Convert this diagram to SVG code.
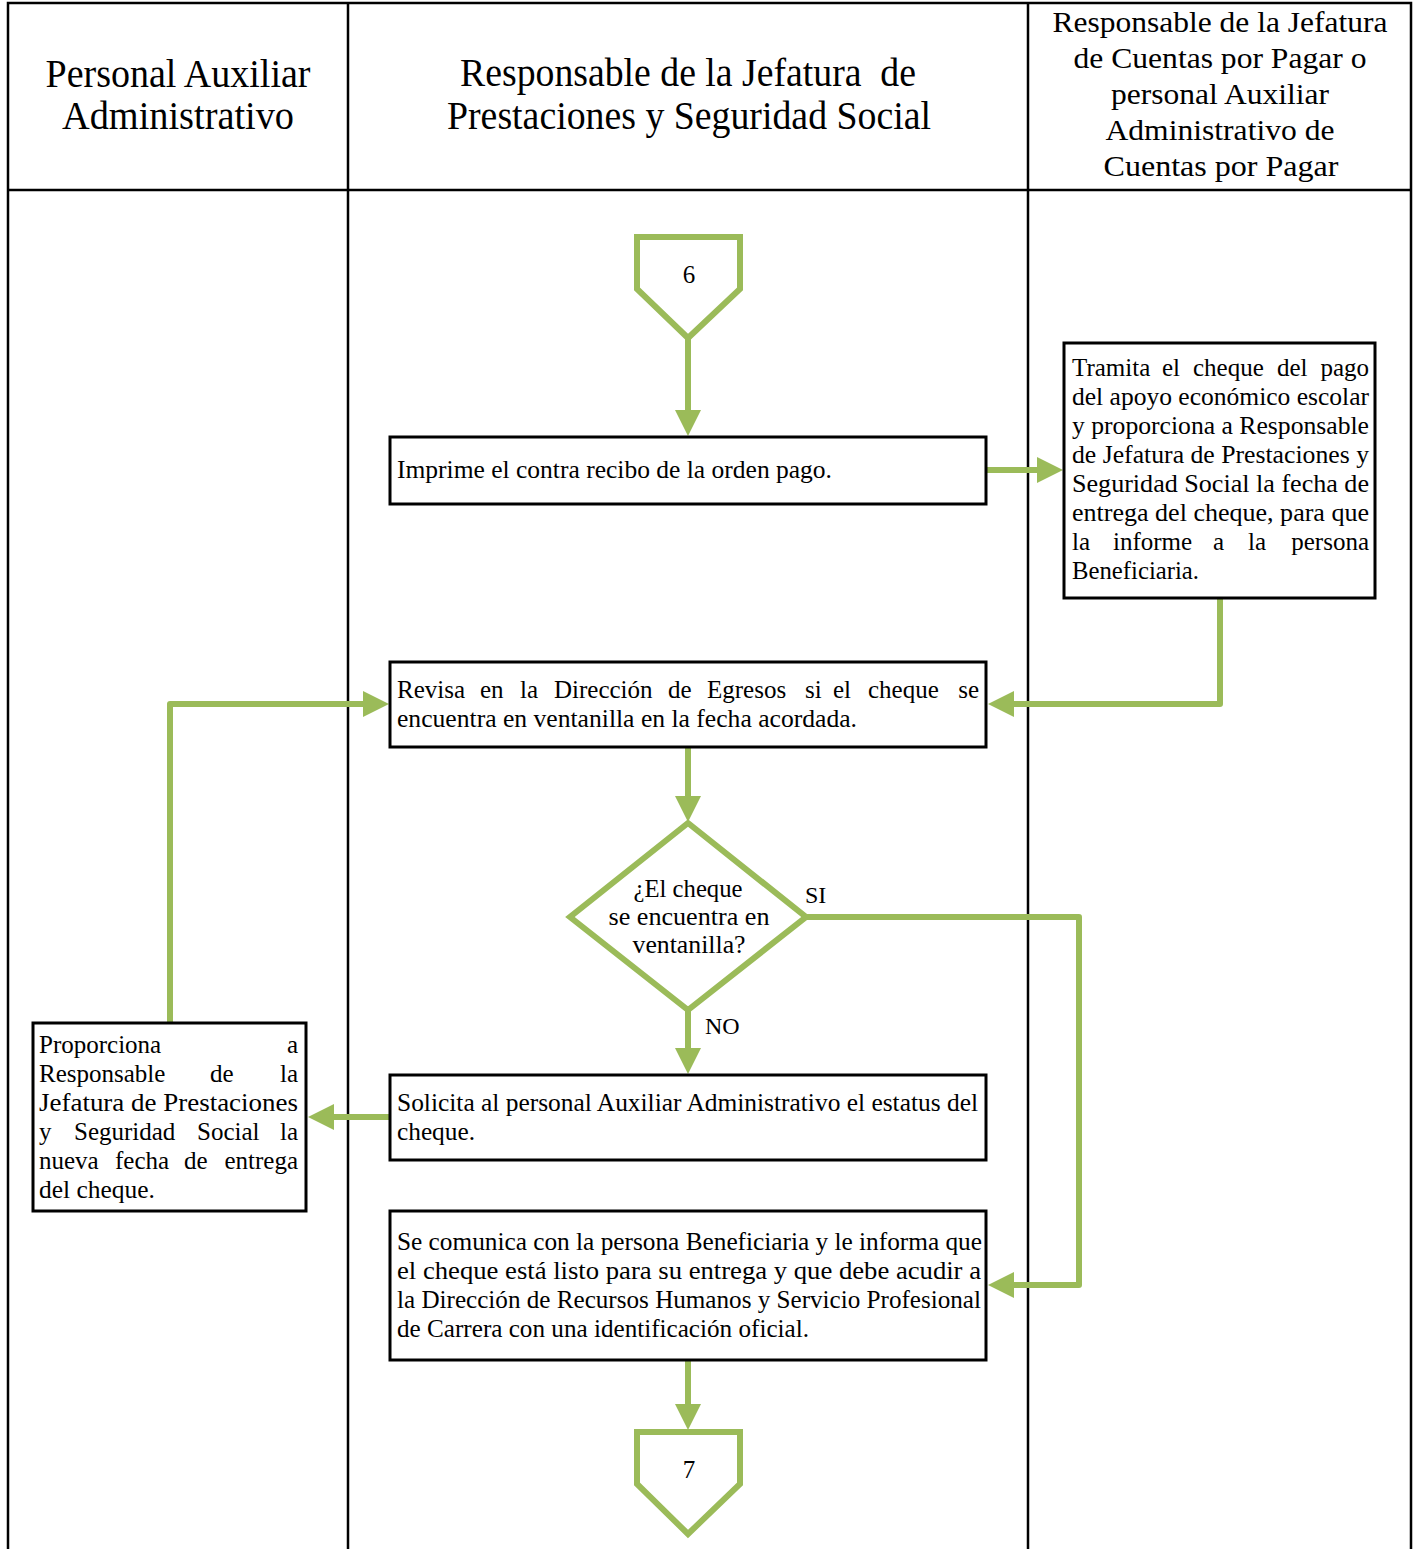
<svg xmlns="http://www.w3.org/2000/svg" width="1418" height="1549" viewBox="0 0 1418 1549">
  <style>
    .lane { fill: none; stroke: #000; stroke-width: 2.5; }
    .box { fill: #fff; stroke: #000; stroke-width: 3; }
    .shape { fill: #fff; stroke: #9BBB59; stroke-width: 6; stroke-linejoin: miter; }
    .flow { fill: none; stroke: #9BBB59; stroke-width: 6; stroke-linejoin: round; marker-end: url(#ah); }
    text { font-family: "Liberation Serif", "Times New Roman", serif; fill: #000; }
    .h { font-size: 41px; text-anchor: middle; }
    .hr { font-size: 29px; text-anchor: middle; }
    .b { font-size: 25px; }
    .c { text-anchor: middle; }
    .e { text-anchor: end; }
    .lbl { font-size: 24px; }
  </style>
  <defs>
    <marker id="ah" markerUnits="userSpaceOnUse" markerWidth="27" markerHeight="26" refX="1" refY="13" orient="auto">
      <path d="M0,0 L26,13 L0,26 z" fill="#9BBB59"/>
    </marker>
  </defs>

  <rect width="1418" height="1549" fill="#fff"/>

  <!-- swimlane grid -->
  <g id="lanes">
    <path class="lane" d="M8,1549 V3 H1411 V1549 M348,3 V1549 M1028,3 V1549 M8,190 H1411"/>
    <text class="h" x="178" y="87" textLength="265" lengthAdjust="spacingAndGlyphs">Personal Auxiliar</text>
    <text class="h" x="178" y="129" textLength="232" lengthAdjust="spacingAndGlyphs">Administrativo</text>
    <text class="h" x="688" y="86" textLength="456" lengthAdjust="spacingAndGlyphs">Responsable de la Jefatura&#160; de</text>
    <text class="h" x="689" y="129" textLength="484" lengthAdjust="spacingAndGlyphs">Prestaciones y Seguridad Social</text>
    <text class="hr" x="1220" y="32" textLength="335" lengthAdjust="spacingAndGlyphs">Responsable de la Jefatura</text>
    <text class="hr" x="1220" y="68" textLength="293" lengthAdjust="spacingAndGlyphs">de Cuentas por Pagar o</text>
    <text class="hr" x="1220" y="104" textLength="218" lengthAdjust="spacingAndGlyphs">personal Auxiliar</text>
    <text class="hr" x="1220" y="140" textLength="229" lengthAdjust="spacingAndGlyphs">Administrativo de</text>
    <text class="hr" x="1221" y="176" textLength="235" lengthAdjust="spacingAndGlyphs">Cuentas por Pagar</text>
  </g>

  <!-- connectors -->
  <g id="connectors">
    <path class="flow" d="M688,337 V411"/>
    <path class="flow" d="M986,470 H1038"/>
    <path class="flow" d="M1220,598 V704 H1013"/>
    <path class="flow" d="M688,747 V797"/>
    <path class="flow" d="M806,917 H1079 V1285 H1013"/>
    <path class="flow" d="M688,1010 V1049"/>
    <path class="flow" d="M390,1117 H333"/>
    <path class="flow" d="M170,1023 V704 H364"/>
    <path class="flow" d="M688,1360 V1405"/>
    <text class="lbl" x="805" y="903">SI</text>
    <text class="lbl" x="705" y="1034">NO</text>
  </g>

  <!-- off-page connector 6 -->
  <g id="offpage-6">
    <polygon class="shape" points="637,237 740,237 740,289 688,338 637,289"/>
    <text class="b c" x="689" y="283">6</text>
  </g>

  <g id="imprime">
    <rect class="box" x="390" y="437" width="596" height="67"/>
    <text class="b" x="397" y="478" textLength="435" lengthAdjust="spacingAndGlyphs">Imprime el contra recibo de la orden pago.</text>
  </g>

  <g id="tramita">
    <rect class="box" x="1064" y="343" width="311" height="255"/>
    <text class="b"><tspan x="1072" y="376">Tramita</tspan><tspan x="1162" y="376">el</tspan><tspan x="1193" y="376">cheque</tspan><tspan x="1277" y="376">del</tspan><tspan class="e" x="1369" y="376">pago</tspan></text>
    <text class="b" x="1072" y="405" textLength="297" lengthAdjust="spacingAndGlyphs">del apoyo económico escolar</text>
    <text class="b" x="1072" y="434" textLength="297" lengthAdjust="spacingAndGlyphs">y proporciona a Responsable</text>
    <text class="b" x="1072" y="463" textLength="297" lengthAdjust="spacingAndGlyphs">de Jefatura de Prestaciones y</text>
    <text class="b" x="1072" y="492" textLength="297" lengthAdjust="spacingAndGlyphs">Seguridad Social la fecha de</text>
    <text class="b" x="1072" y="521" textLength="297" lengthAdjust="spacingAndGlyphs">entrega del cheque, para que</text>
    <text class="b"><tspan x="1072" y="550">la</tspan><tspan x="1113" y="550">informe</tspan><tspan x="1213" y="550">a</tspan><tspan x="1248" y="550">la</tspan><tspan class="e" x="1369" y="550">persona</tspan></text>
    <text class="b" x="1072" y="579" textLength="127" lengthAdjust="spacingAndGlyphs">Beneficiaria.</text>
  </g>

  <g id="revisa">
    <rect class="box" x="390" y="662" width="596" height="85"/>
    <text class="b"><tspan x="397" y="698">Revisa</tspan><tspan x="480" y="698">en</tspan><tspan x="520" y="698">la</tspan><tspan x="554" y="698">Dirección</tspan><tspan x="668" y="698">de</tspan><tspan x="707" y="698">Egresos</tspan><tspan x="805" y="698">si</tspan><tspan x="833" y="698">el</tspan><tspan x="868" y="698">cheque</tspan><tspan class="e" x="979" y="698">se</tspan></text>
    <text class="b" x="397" y="727" textLength="460" lengthAdjust="spacingAndGlyphs">encuentra en ventanilla en la fecha acordada.</text>
  </g>

  <g id="decision">
    <polygon class="shape" points="688,823 806,917 688,1010 570,917"/>
    <text class="b c" x="688" y="897" textLength="109" lengthAdjust="spacingAndGlyphs">¿El cheque</text>
    <text class="b c" x="689" y="925" textLength="161" lengthAdjust="spacingAndGlyphs">se encuentra en</text>
    <text class="b c" x="689" y="953" textLength="113" lengthAdjust="spacingAndGlyphs">ventanilla?</text>
  </g>

  <g id="solicita">
    <rect class="box" x="390" y="1075" width="596" height="85"/>
    <text class="b" x="397" y="1111" textLength="581" lengthAdjust="spacingAndGlyphs">Solicita al personal Auxiliar Administrativo el estatus del</text>
    <text class="b" x="397" y="1140" textLength="78" lengthAdjust="spacingAndGlyphs">cheque.</text>
  </g>

  <g id="proporciona">
    <rect class="box" x="33" y="1023" width="273" height="188"/>
    <text class="b"><tspan x="39" y="1053">Proporciona</tspan><tspan class="e" x="298" y="1053">a</tspan></text>
    <text class="b"><tspan x="39" y="1082">Responsable</tspan><tspan x="210" y="1082">de</tspan><tspan class="e" x="298" y="1082">la</tspan></text>
    <text class="b" x="39" y="1111" textLength="259" lengthAdjust="spacingAndGlyphs">Jefatura de Prestaciones</text>
    <text class="b"><tspan x="39" y="1140">y</tspan><tspan x="74" y="1140">Seguridad</tspan><tspan x="197" y="1140">Social</tspan><tspan class="e" x="298" y="1140">la</tspan></text>
    <text class="b"><tspan x="39" y="1169">nueva</tspan><tspan x="115" y="1169">fecha</tspan><tspan x="184" y="1169">de</tspan><tspan class="e" x="298" y="1169">entrega</tspan></text>
    <text class="b" x="39" y="1198" textLength="116" lengthAdjust="spacingAndGlyphs">del cheque.</text>
  </g>

  <g id="comunica">
    <rect class="box" x="390" y="1211" width="596" height="149"/>
    <text class="b" x="397" y="1250" textLength="585" lengthAdjust="spacingAndGlyphs">Se comunica con la persona Beneficiaria y le informa que</text>
    <text class="b" x="397" y="1279" textLength="584" lengthAdjust="spacingAndGlyphs">el cheque está listo para su entrega y que debe acudir a</text>
    <text class="b" x="397" y="1308" textLength="584" lengthAdjust="spacingAndGlyphs">la Dirección de Recursos Humanos y Servicio Profesional</text>
    <text class="b" x="397" y="1337" textLength="412" lengthAdjust="spacingAndGlyphs">de Carrera con una identificación oficial.</text>
  </g>

  <!-- off-page connector 7 -->
  <g id="offpage-7">
    <polygon class="shape" points="637,1432 740,1432 740,1484 688,1534 637,1484"/>
    <text class="b c" x="689" y="1478">7</text>
  </g>
</svg>
